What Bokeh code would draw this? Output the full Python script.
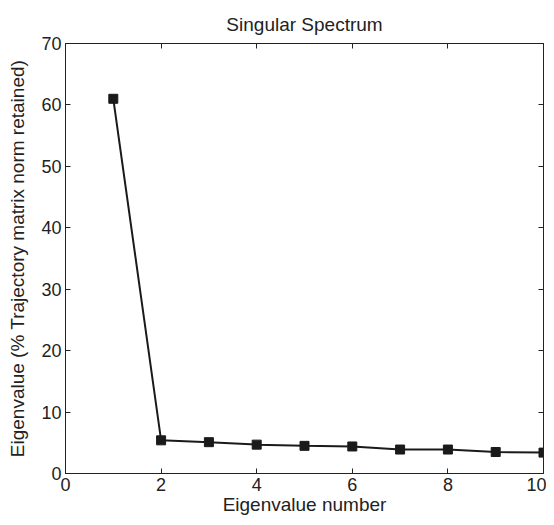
from bokeh.plotting import figure
from bokeh.models import LinearAxis, Range1d, FixedTicker
from bokeh.embed import file_html
from bokeh.resources import INLINE

eig_number = [1, 2, 3, 4, 5, 6, 7, 8, 9, 10]
eig_value = [61.0, 5.4, 5.1, 4.7, 4.5, 4.4, 3.9, 3.9, 3.5, 3.4]
x_ticks = [0, 2, 4, 6, 8, 10]
y_ticks = [0, 10, 20, 30, 40, 50, 60, 70]

FONT = "Liberation Sans"
INK = "#222222"

p = figure(width=546, height=517, output_backend="svg", toolbar_location=None,
           x_range=Range1d(0, 10), y_range=Range1d(0, 70),
           title="Singular Spectrum",
           min_border_left=65, min_border_right=3, min_border_top=43, min_border_bottom=40)

p.title.align = "center"
p.title.text_font = FONT
p.title.text_font_style = "normal"
p.title.text_font_size = "19px"
p.title.text_color = INK
p.title.standoff = 17

p.grid.visible = False
p.outline_line_color = INK
p.background_fill_color = "white"
p.border_fill_color = "white"

for ax in (p.xaxis[0], p.yaxis[0]):
    ax.major_tick_in = 5
    ax.major_tick_out = 0
    ax.minor_tick_in = 0
    ax.minor_tick_out = 0
    ax.axis_line_color = INK
    ax.major_tick_line_color = INK
    ax.major_label_text_font = FONT
    ax.major_label_text_font_size = "18px"
    ax.major_label_text_color = INK
    ax.axis_label_text_font = FONT
    ax.axis_label_text_font_size = "19px"
    ax.axis_label_text_font_style = "normal"
    ax.axis_label_text_color = INK

p.xaxis[0].ticker = FixedTicker(ticks=x_ticks)
p.yaxis[0].ticker = FixedTicker(ticks=y_ticks)
p.xaxis[0].axis_label = "Eigenvalue number"
p.yaxis[0].axis_label = "Eigenvalue (% Trajectory matrix norm retained)"
p.xaxis[0].major_label_standoff = 4
p.xaxis[0].axis_label_standoff = 0
p.yaxis[0].major_label_standoff = 4
p.yaxis[0].axis_label_standoff = 10

top = LinearAxis(ticker=FixedTicker(ticks=x_ticks), major_tick_in=5, major_tick_out=0,
                 minor_tick_in=0, minor_tick_out=0, major_label_text_font_size="0px",
                 major_label_standoff=0, axis_line_color=INK,
                 major_tick_line_color=INK)
right = LinearAxis(ticker=FixedTicker(ticks=y_ticks), major_tick_in=5, major_tick_out=0,
                   minor_tick_in=0, minor_tick_out=0, major_label_text_font_size="0px",
                   major_label_standoff=0, axis_line_color=INK,
                   major_tick_line_color=INK)
p.add_layout(top, "above")
p.add_layout(right, "right")

p.line(eig_number, eig_value, line_color="#1a1a1a", line_width=2)
p.scatter(eig_number, eig_value, marker="square", size=9,
          fill_color="#1a1a1a", line_color="#1a1a1a")

open("out.html", "w").write(file_html(p, INLINE))
